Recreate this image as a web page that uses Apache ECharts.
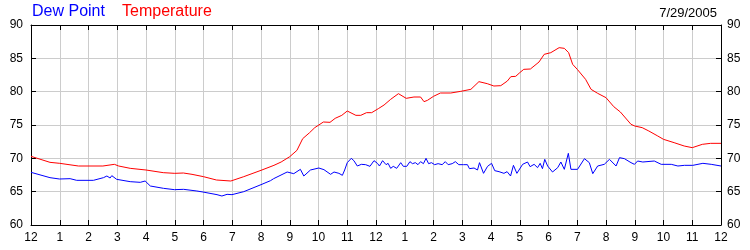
<!DOCTYPE html>
<html>
<head>
<meta charset="utf-8">
<script src="https://cdn.jsdelivr.net/npm/echarts@6/dist/echarts.min.js"></script>
<style>html,body{margin:0;padding:0;background:#fff;}#c{width:750px;height:250px;}</style>
</head>
<body>
<div id="c"></div>
<script>
const hourLabels = ['12','1','2','3','4','5','6','7','8','9','10','11','12','1','2','3','4','5','6','7','8','9','10','11','12'];
const yTicks = [60, 65, 70, 75, 80, 85, 90];
const dateLabel = '7/29/2005';

const tempHours = [0,0.66,1.0,1.65,2.5,2.55,2.9,3.05,3.45,4.0,4.6,5.0,5.3,5.6,6.0,6.45,6.95,7.4,8.0,8.45,8.7,9.0,9.25,9.45,9.69,9.87,10.17,10.4,10.58,10.81,11.0,11.3,11.47,11.67,11.85,12.08,12.28,12.51,12.78,13.05,13.32,13.55,13.67,13.79,14.0,14.24,14.6,14.95,15.3,15.58,15.87,16.1,16.34,16.57,16.69,16.86,17.0,17.14,17.37,17.67,17.85,18.08,18.37,18.55,18.7,18.84,19.0,19.29,19.48,19.71,20.0,20.27,20.5,20.87,21.0,21.26,21.49,21.8,22.0,22.37,22.72,23.0,23.35,23.64,24.0];
const tempValues = [70.3,69.4,69.25,68.85,68.85,69.15,69.1,68.85,68.5,68.25,67.85,67.75,67.8,67.6,67.25,66.75,66.6,67.25,68.2,68.95,69.45,70.25,71.2,72.95,73.85,74.6,75.45,75.4,76.0,76.45,77.1,76.45,76.45,76.85,76.85,77.45,78.0,78.85,79.7,79.0,79.2,79.2,78.5,78.7,79.3,79.8,79.8,80.05,80.35,81.5,81.2,80.85,80.9,81.6,82.25,82.3,82.85,83.35,83.4,84.45,85.6,85.85,86.6,86.5,85.85,84.1,83.35,81.85,80.35,79.75,79.1,77.75,76.95,75.1,74.85,74.6,74.1,73.35,72.85,72.35,71.85,71.6,72.1,72.25,72.25];

const dewHours = [0,0.66,0.99,1.36,1.59,2.17,2.52,2.64,2.75,2.81,2.98,3.45,3.8,3.97,4.15,4.61,4.99,5.31,5.77,5.98,6.47,6.64,6.82,6.99,7.4,8.0,8.33,8.44,8.91,9.14,9.37,9.49,9.72,10.01,10.19,
  10.42,10.54,10.71,10.83,10.91,11.0,11.14,11.23,11.35,11.49,11.64,11.79,11.93,12.05,12.12,12.23,12.35,12.42,12.51,12.6,12.72,12.86,12.95,13.07,13.18,13.27,13.37,13.46,13.55,13.65,13.74,13.83,13.93,14.04,14.16,14.3,14.41,14.51,14.65,14.76,14.88,15.04,15.18,15.25,15.41,15.53,15.6,15.74,15.88,16.02,16.13,16.28,16.45,16.56,16.68,
  16.78,16.9,17.1,17.27,17.36,17.5,17.62,17.71,17.79,17.87,17.97,18.14,18.32,18.43,18.55,18.69,18.78,19.01,19.25,19.42,19.54,19.71,19.94,20.12,20.35,20.47,20.64,20.87,20.99,21.1,21.28,21.68,21.92,22.27,22.5,22.73,23.02,23.37,23.66,24.0];
const dewValues = [67.9,67.1,66.9,66.95,66.7,66.7,67.1,67.35,67.05,67.4,66.85,66.5,66.4,66.6,65.85,65.5,65.3,65.35,65.1,64.95,64.55,64.35,64.6,64.55,65.0,66.05,66.65,66.95,67.95,67.7,68.35,67.35,68.25,68.55,68.3,
  67.6,67.95,67.75,67.45,68.25,69.35,70.0,69.65,68.85,69.1,69.05,68.8,69.65,69.25,68.85,69.65,69.05,69.25,68.5,68.8,68.5,69.35,68.8,68.8,69.5,69.2,69.35,69.05,69.5,69.2,70.0,69.2,69.35,69.05,69.2,69.05,69.5,69.05,69.2,69.5,69.05,69.05,69.05,68.45,68.55,68.25,69.35,67.75,68.8,69.25,68.15,68.0,67.75,68.0,67.35,
  68.95,67.75,69.1,69.45,68.75,69.1,68.6,69.25,68.45,69.85,68.85,67.95,68.6,69.45,68.35,70.75,68.35,68.35,69.95,69.35,67.7,68.85,69.1,69.85,68.85,70.1,69.95,69.35,69.1,69.6,69.45,69.6,69.1,69.1,68.85,68.95,68.95,69.25,69.1,68.85];

const FONT = 'Liberation Sans, Arial, sans-serif';
const chart = echarts.init(document.getElementById('c'), null, {renderer: 'canvas'});

const pair = (hs, vs) => hs.map((h, i) => [h, vs[i]]);

const xBase = {
  type: 'value', min: 0, max: 24, interval: 1,
  axisLine: {show: true, onZero: false, lineStyle: {color: '#000', width: 1}},
  axisTick: {show: true, inside: true, length: 5, lineStyle: {color: '#000'}},
  splitLine: {show: false}
};
const yBase = {
  type: 'value', min: yTicks[0], max: yTicks[yTicks.length - 1], interval: 5,
  axisLine: {show: true, onZero: false, lineStyle: {color: '#000', width: 1}},
  axisTick: {show: true, inside: true, length: 5, lineStyle: {color: '#000'}},
  splitLine: {show: false}
};

chart.setOption({
  animation: false,
  backgroundColor: '#fff',
  title: [
    {text: 'Dew Point', left: 32, top: 4, padding: 0, textStyle: {color: '#0000ff', fontSize: 16, fontWeight: 'normal', fontFamily: FONT}},
    {text: 'Temperature', left: 122, top: 4, padding: 0, textStyle: {color: '#ff0000', fontSize: 16, fontWeight: 'normal', fontFamily: FONT}},
    {text: dateLabel, right: 33, top: 7, padding: 0, textStyle: {color: '#000', fontSize: 13, fontWeight: 'normal', fontFamily: FONT}}
  ],
  grid: {left: 31, right: 29, top: 25, bottom: 25, containLabel: false, outerBoundsMode: 'none'},
  xAxis: [
    Object.assign({}, xBase, {
      position: 'bottom',
      splitLine: {show: true, lineStyle: {color: '#cccccc', width: 1}},
      axisLabel: {show: true, margin: 7, color: '#000', fontSize: 12, fontFamily: FONT,
        formatter: v => hourLabels[Math.round(v)]}
    }),
    Object.assign({}, xBase, {position: 'top', axisLabel: {show: false}})
  ],
  yAxis: [
    Object.assign({}, yBase, {
      position: 'left',
      splitLine: {show: true, lineStyle: {color: '#cccccc', width: 1}},
      axisLabel: {show: true, margin: 8, color: '#000', fontSize: 12, fontFamily: FONT}
    }),
    Object.assign({}, yBase, {
      position: 'right',
      axisLabel: {show: true, margin: 6, color: '#000', fontSize: 12, fontFamily: FONT}
    })
  ],
  series: [
    {name: 'Dew Point', type: 'line', xAxisIndex: 0, yAxisIndex: 0, data: pair(dewHours, dewValues),
      showSymbol: false, symbol: 'none', lineStyle: {color: '#0000ff', width: 1}, itemStyle: {color: '#0000ff'}},
    {name: 'Temperature', type: 'line', xAxisIndex: 0, yAxisIndex: 0, data: pair(tempHours, tempValues),
      showSymbol: false, symbol: 'none', lineStyle: {color: '#ff0000', width: 1}, itemStyle: {color: '#ff0000'}}
  ]
});
</script>
</body>
</html>
